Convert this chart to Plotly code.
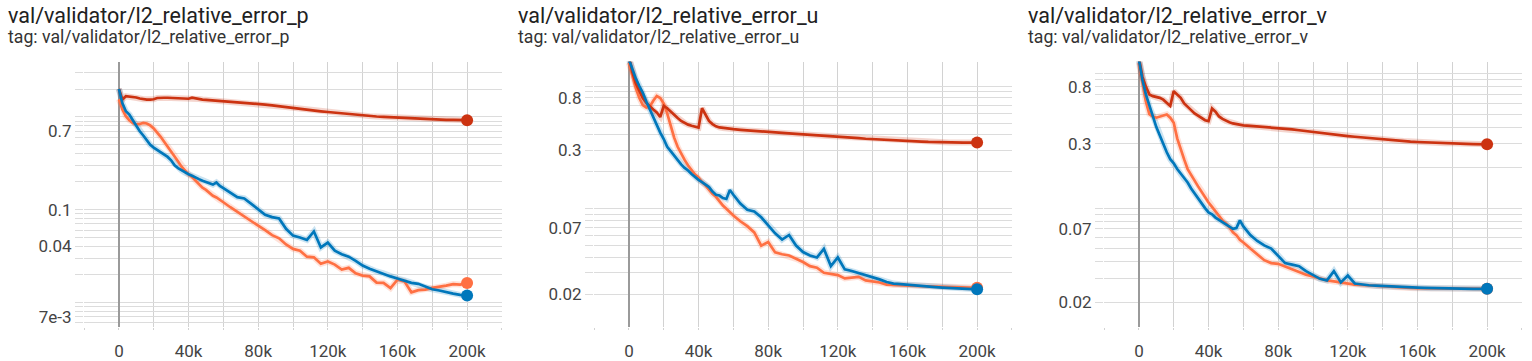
import math
import plotly.graph_objects as go

# ---------------- data ----------------
steps_k = list(range(0, 62, 2)) + list(range(64, 204, 4))  # training step in thousands

run_colors = ["#ff7043", "#cc3311", "#0077bb"]  # orange, red, blue

p_orange = [1.55, 1.20, 1.02, 0.92, 0.86, 0.83, 0.84, 0.86, 0.85, 0.81, 0.75, 0.68, 0.61, 0.54, 0.48, 0.42,
            0.37, 0.33, 0.29, 0.26, 0.24, 0.225, 0.205, 0.185, 0.172, 0.163, 0.152, 0.141, 0.135, 0.126, 0.12,
            0.106, 0.094, 0.085, 0.075, 0.067, 0.060, 0.053, 0.049, 0.042, 0.0376, 0.036, 0.031, 0.0305, 0.026,
            0.0275, 0.0255, 0.0225, 0.0235, 0.0205, 0.0194, 0.019, 0.0163, 0.0162, 0.0142, 0.0175, 0.0168,
            0.0128, 0.0135, 0.0137, 0.0143, 0.0146, 0.0151, 0.0157, 0.0155, 0.0161]
p_red = [2.0, 1.54, 1.67, 1.66, 1.65, 1.62, 1.58, 1.55, 1.54, 1.54, 1.55, 1.60, 1.62, 1.61, 1.61, 1.60,
         1.60, 1.60, 1.59, 1.58, 1.57, 1.61, 1.58, 1.56, 1.54, 1.53, 1.52, 1.51, 1.50, 1.50, 1.49,
         1.47, 1.45, 1.43, 1.41, 1.39, 1.36, 1.33, 1.30, 1.28, 1.256, 1.23, 1.20, 1.18, 1.15, 1.13, 1.11,
         1.09, 1.07, 1.05, 1.04, 1.02, 1.01, 1.0, 0.99, 0.98, 0.97, 0.96, 0.955, 0.95, 0.94, 0.935, 0.93,
         0.928, 0.925, 0.922]
p_blue = [2.0, 1.40, 1.15, 1.06, 0.92, 0.80, 0.70, 0.63, 0.56, 0.50, 0.466, 0.44, 0.41, 0.39, 0.37, 0.34,
          0.30, 0.28, 0.265, 0.25, 0.241, 0.232, 0.22, 0.213, 0.205, 0.198, 0.19, 0.186, 0.196, 0.18, 0.17,
          0.152, 0.136, 0.132, 0.115, 0.101, 0.088, 0.083, 0.080, 0.062, 0.0523, 0.050, 0.047, 0.058, 0.039,
          0.044, 0.036, 0.033, 0.031, 0.028, 0.0249, 0.023, 0.0215, 0.0205, 0.019, 0.018, 0.0172, 0.0162,
          0.0158, 0.0148, 0.0138, 0.0134, 0.0128, 0.0124, 0.012, 0.0118]

u_orange = [1.55, 1.2, 0.96, 0.80, 0.70, 0.67, 0.68, 0.76, 0.83, 0.80, 0.72, 0.60, 0.48, 0.38, 0.32, 0.28,
            0.25, 0.225, 0.205, 0.19, 0.18, 0.165, 0.155, 0.142, 0.132, 0.125, 0.115, 0.106, 0.10, 0.093, 0.088,
            0.079, 0.072, 0.064, 0.050, 0.0535, 0.044, 0.0425, 0.0415, 0.039, 0.0367, 0.034, 0.033, 0.030,
            0.0295, 0.0287, 0.027, 0.0275, 0.0278, 0.026, 0.0255, 0.025, 0.024, 0.0238, 0.0238, 0.0237,
            0.0235, 0.0233, 0.0232, 0.0231, 0.023, 0.0229, 0.0228, 0.0227, 0.0227, 0.0226]
u_red = [1.75, 1.30, 1.05, 0.92, 0.80, 0.73, 0.68, 0.645, 0.61, 0.56, 0.69, 0.66, 0.62, 0.58, 0.55, 0.52,
         0.50, 0.485, 0.475, 0.465, 0.459, 0.66, 0.58, 0.52, 0.49, 0.47, 0.46, 0.455, 0.45, 0.447, 0.445,
         0.44, 0.435, 0.43, 0.426, 0.423, 0.419, 0.415, 0.412, 0.408, 0.405, 0.401, 0.397, 0.394, 0.391,
         0.388, 0.384, 0.38, 0.376, 0.372, 0.369, 0.366, 0.363, 0.361, 0.359, 0.357, 0.355, 0.353, 0.351,
         0.349, 0.347, 0.346, 0.346, 0.346, 0.346, 0.346]
u_blue = [1.65, 1.35, 1.15, 1.0, 0.88, 0.75, 0.646, 0.56, 0.48, 0.418, 0.37, 0.32, 0.295, 0.27, 0.25, 0.23,
          0.215, 0.205, 0.192, 0.18, 0.172, 0.165, 0.158, 0.15, 0.138, 0.13, 0.128, 0.122, 0.12, 0.142, 0.13,
          0.11, 0.098, 0.095, 0.085, 0.073, 0.063, 0.056, 0.061, 0.05, 0.0443, 0.0415, 0.040, 0.047, 0.034,
          0.040, 0.032, 0.031, 0.0298, 0.029, 0.0275, 0.0265, 0.0252, 0.0245, 0.0242, 0.024, 0.0237, 0.0234,
          0.0231, 0.0229, 0.0227, 0.0225, 0.0224, 0.0222, 0.0221, 0.0220]

v_orange = [1.2, 0.85, 0.62, 0.50, 0.48, 0.47, 0.48, 0.49, 0.497, 0.47, 0.431, 0.33, 0.27, 0.23, 0.195, 0.175,
            0.16, 0.145, 0.132, 0.12, 0.11, 0.102, 0.095, 0.087, 0.081, 0.077, 0.072, 0.066, 0.063, 0.058, 0.0555,
            0.05, 0.045, 0.041, 0.039, 0.0385, 0.0368, 0.035, 0.0335, 0.032, 0.031, 0.0298, 0.029, 0.0285,
            0.028, 0.0272, 0.027, 0.0268, 0.0266, 0.0263, 0.026, 0.0258, 0.0257, 0.0256, 0.0255, 0.0254,
            0.0254, 0.0253, 0.0253, 0.0252, 0.0252, 0.0252, 0.0251, 0.0251, 0.0251, 0.0251]
v_red = [1.3, 0.95, 0.80, 0.70, 0.68, 0.67, 0.66, 0.64, 0.61, 0.575, 0.74, 0.70, 0.66, 0.60, 0.57, 0.535,
         0.505, 0.485, 0.465, 0.45, 0.443, 0.55, 0.52, 0.48, 0.46, 0.445, 0.435, 0.426, 0.42, 0.415, 0.412,
         0.408, 0.404, 0.40, 0.398, 0.396, 0.39, 0.385, 0.379, 0.373, 0.368, 0.363, 0.358, 0.352, 0.347,
         0.343, 0.339, 0.335, 0.331, 0.327, 0.324, 0.321, 0.318, 0.315, 0.312, 0.31, 0.308, 0.306, 0.305,
         0.304, 0.303, 0.302, 0.3, 0.299, 0.298, 0.298]
v_blue = [1.27, 0.90, 0.70, 0.57, 0.483, 0.40, 0.343, 0.30, 0.26, 0.231, 0.215, 0.195, 0.18, 0.165, 0.155, 0.14,
          0.128, 0.118, 0.108, 0.10, 0.093, 0.09, 0.085, 0.082, 0.079, 0.076, 0.073, 0.070, 0.071, 0.081, 0.073,
          0.063, 0.057, 0.0528, 0.05, 0.0445, 0.039, 0.038, 0.037, 0.034, 0.0316, 0.0298, 0.029, 0.034, 0.028,
          0.0315, 0.0275, 0.027, 0.0267, 0.0265, 0.0263, 0.0261, 0.026, 0.0258, 0.0257, 0.0256, 0.0255,
          0.0254, 0.0254, 0.0253, 0.0253, 0.0252, 0.0252, 0.0251, 0.0251, 0.0251]

panel_titles = ["val/validator/l2_relative_error_p",
                "val/validator/l2_relative_error_u",
                "val/validator/l2_relative_error_v"]
panel_series = [[p_orange, p_red, p_blue], [u_orange, u_red, u_blue], [v_orange, v_red, v_blue]]
panel_yranges = [[-2.263, 0.597], [-1.962, 0.200], [-1.881, 0.089]]  # log10 units
panel_ylabels = [{0.7: "0.7", 0.1: "0.1", 0.04: "0.04", 0.007: "7e-3"},
                 {0.8: "0.8", 0.3: "0.3", 0.07: "0.07", 0.02: "0.02"},
                 {0.8: "0.8", 0.3: "0.3", 0.07: "0.07", 0.02: "0.02"}]
x_tick_k = [-20, 0, 20, 40, 60, 80, 100, 120, 140, 160, 180, 200, 220]
x_label_k = {0: "0", 40: "40k", 80: "80k", 120: "120k", 160: "160k", 200: "200k"}

# ---------------- figure ----------------
W, H = 1532, 361
GRID_V = "#d2d2d2"
GRID_H = "#dcdcdc"
FONT = "Roboto"
PLOT_TOP, PLOT_BOTTOM = 63, 334

steps = [s * 1000 for s in steps_k]
fig = go.Figure()
layout = dict(width=W, height=H, margin=dict(l=0, r=0, t=0, b=0),
              paper_bgcolor="white", plot_bgcolor="white", showlegend=False,
              font=dict(family=FONT, color="#444"))
annotations = []

for i in range(3):
    off = 510 * i
    xa = "x" if i == 0 else f"x{i+1}"
    ya = "y" if i == 0 else f"y{i+1}"
    xkey = "xaxis" if i == 0 else f"xaxis{i+1}"
    ykey = "yaxis" if i == 0 else f"yaxis{i+1}"
    lo, hi = panel_yranges[i]

    # y ticks at every 1..9 x 10^k inside the range
    tv, tt = [], []
    for k in range(-4, 2):
        for m in range(1, 10):
            v = m * 10.0 ** k
            if lo <= math.log10(v) <= hi:
                tv.append(v)
                lab = ""
                for key, txt in panel_ylabels[i].items():
                    if abs(key - v) / key < 1e-6:
                        lab = txt
                tt.append(lab)

    layout[xkey] = dict(domain=[(84 + off) / W, (502 + off) / W], range=[-20050, 220050],
                        anchor=ya, tickvals=[k * 1000 for k in x_tick_k],
                        ticktext=[x_label_k.get(k, "") for k in x_tick_k],
                        ticks="outside", ticklen=2, tickcolor=GRID_V, tickwidth=1,
                        showgrid=True, gridcolor=GRID_V, gridwidth=1,
                        zeroline=True, zerolinecolor="#9a9a9a", zerolinewidth=2,
                        showline=False, tickfont=dict(family=FONT, size=17, color="#444"),
                        ticklabelstandoff=7, fixedrange=True)
    layout[ykey] = dict(domain=[(H - PLOT_BOTTOM) / H, (H - PLOT_TOP) / H], type="log", range=[lo, hi],
                        anchor=xa, tickvals=tv, ticktext=tt,
                        ticks="outside", ticklen=8, tickcolor=GRID_H, tickwidth=1,
                        showgrid=True, gridcolor=GRID_H, gridwidth=1,
                        zeroline=False, showline=False,
                        tickfont=dict(family=FONT, size=17, color="#444"),
                        ticklabelstandoff=0, fixedrange=True)

    for vals, col in zip(panel_series[i], run_colors):
        # faint halo (raw look)
        fig.add_trace(go.Scatter(x=steps, y=vals, mode="lines", xaxis=xa, yaxis=ya,
                                 line=dict(color=col, width=6), opacity=0.2, hoverinfo="skip"))
    for vals, col in zip(panel_series[i], run_colors):
        fig.add_trace(go.Scatter(x=steps, y=vals, mode="lines", xaxis=xa, yaxis=ya,
                                 line=dict(color=col, width=2.7)))
        fig.add_trace(go.Scatter(x=[steps[-1]], y=[vals[-1]], mode="markers", xaxis=xa, yaxis=ya,
                                 marker=dict(color=col, size=12), cliponaxis=False))

    annotations.append(dict(text=panel_titles[i], xref="paper", yref="paper",
                            x=(6 + off) / W, y=(H - 16) / H, xanchor="left", yanchor="middle",
                            showarrow=False, font=dict(family=FONT, size=21.5, color="#212121")))
    annotations.append(dict(text="tag: " + panel_titles[i], xref="paper", yref="paper",
                            x=(6 + off) / W, y=(H - 38) / H, xanchor="left", yanchor="middle",
                            showarrow=False, font=dict(family=FONT, size=17.7, color="#333")))

layout["annotations"] = annotations
fig.update_layout(**layout)
fig.write_html("out.html", config={"displayModeBar": False},
               post_script="document.body.style.margin='0px';document.body.style.overflow='hidden';")
